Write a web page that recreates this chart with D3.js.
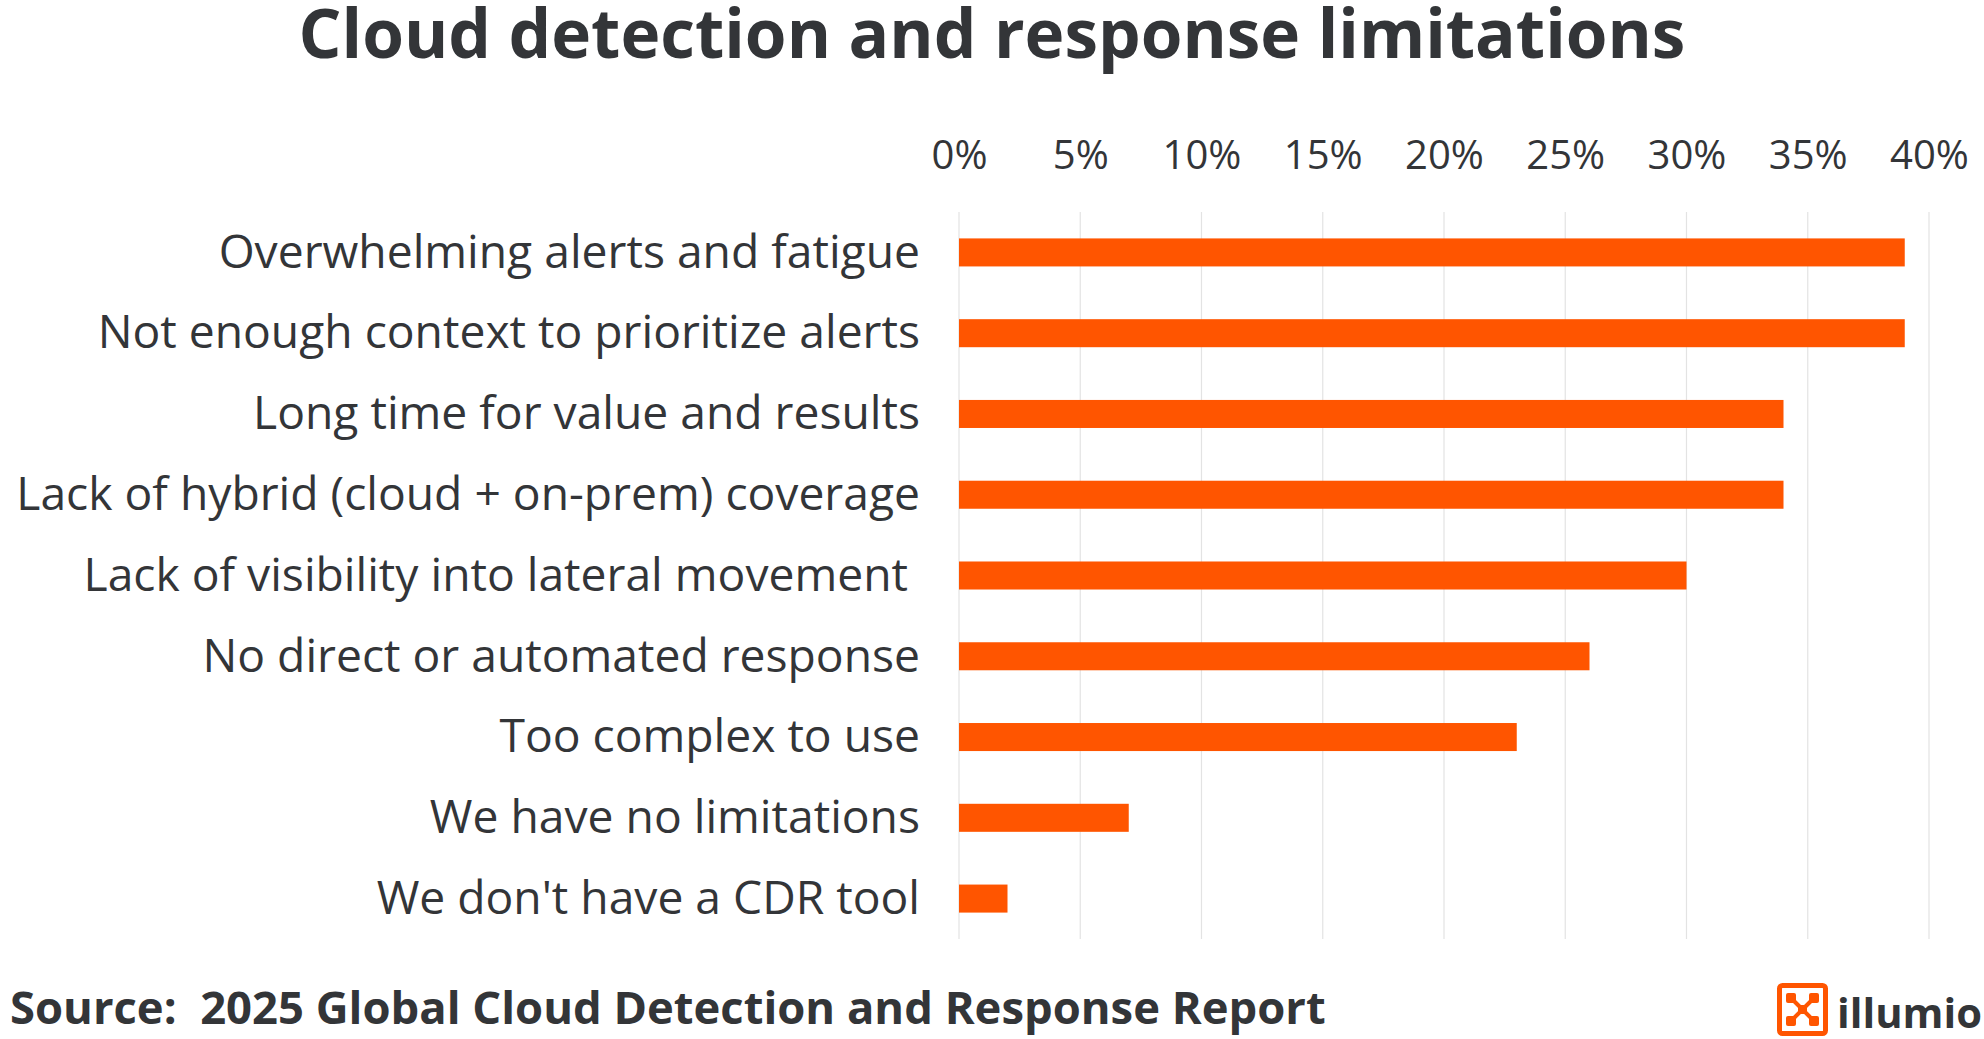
<!DOCTYPE html>
<html>
<head>
<meta charset="utf-8">
<script src="https://cdn.jsdelivr.net/npm/d3@7"></script>
<style>
body { margin: 0; background: #fff; }
text { white-space: pre; }
</style>
</head>
<body>
<svg id="chart" width="1984" height="1039"></svg>
<script>
var categories = [
    "Overwhelming alerts and fatigue",
    "Not enough context to prioritize alerts",
    "Long time for value and results",
    "Lack of hybrid (cloud + on-prem) coverage",
    "Lack of visibility into lateral movement ",
    "No direct or automated response",
    "Too complex to use",
    "We have no limitations",
    "We don't have a CDR tool"
];
var values = [39, 39, 34, 34, 30, 26, 23, 7, 2];
var tickValues = [0, 5, 10, 15, 20, 25, 30, 35, 40];
var title = "Cloud detection and response limitations";
var source = "Source:  2025 Global Cloud Detection and Response Report";

var W = 1984, H = 1039;
var svg = d3.select("#chart");
var plotLeft = 959, plotRight = 1929, plotTop = 212, plotBottom = 939;
var orange = "#ff5500", ink = "#333538";

// squeeze or stretch a text's font-size so it spans a given width
function fitWidth(sel, target) {
    var node = sel.node();
    var fs = parseFloat(sel.attr("font-size"));
    var w = node.getComputedTextLength();
    sel.attr("font-size", fs * target / w);
}

var x = d3.scaleLinear().domain([0, 40]).range([plotLeft, plotRight]);
var y = d3.scaleBand().domain(categories).range([plotTop, plotBottom])
    .paddingInner(0.653).paddingOuter(0.327);

// gridlines
svg.append("g").selectAll("line").data(tickValues).enter().append("line")
    .attr("x1", function (d) { return x(d); })
    .attr("x2", function (d) { return x(d); })
    .attr("y1", plotTop).attr("y2", plotBottom)
    .style("stroke", "#e3e3e3").style("stroke-width", 1.2);

// top axis labels
var xAxis = d3.axisTop(x).tickValues(tickValues)
    .tickFormat(function (d) { return d + "%"; }).tickSize(0).tickPadding(0);
var gx = svg.append("g").attr("transform", "translate(0,169)").call(xAxis);
gx.select(".domain").remove();
gx.selectAll("text")
    .attr("font-family", "Open Sans").attr("font-size", 40)
    .attr("fill", ink).attr("dy", 0);

// bars
svg.append("g").selectAll("rect").data(values).enter().append("rect")
    .attr("x", x(0))
    .attr("y", function (d, i) { return y(categories[i]); })
    .attr("width", function (d) { return x(d) - x(0); })
    .attr("height", y.bandwidth())
    .style("fill", orange);

// category labels
var yAxis = d3.axisLeft(y).tickSize(0).tickPadding(39);
var gy = svg.append("g").attr("transform", "translate(" + plotLeft + ",0)").call(yAxis);
gy.select(".domain").remove();
gy.selectAll("text")
    .attr("font-family", "Open Sans").attr("font-size", 41)
    .attr("fill", ink).attr("dy", "0.33em");
var longest = gy.selectAll("text").filter(function (d, i) { return i === 3; });
fitWidth(longest, 904);
gy.selectAll("text").attr("font-size", longest.attr("font-size"));

// title
var t = svg.append("text")
    .attr("x", W / 2).attr("y", 58)
    .attr("text-anchor", "middle")
    .attr("font-family", "Open Sans").attr("font-weight", 700)
    .attr("font-size", 64).attr("fill", ink)
    .text(title);
fitWidth(t, 1387);

// source
var s = svg.append("text")
    .attr("x", 10).attr("y", 1024)
    .attr("font-family", "Open Sans").attr("font-weight", 700)
    .attr("font-size", 42).attr("fill", ink)
    .text(source);
fitWidth(s, 1316);

// illumio logo
var logo = svg.append("g").attr("transform", "translate(1777,983)");
logo.append("rect").attr("x", 2.5).attr("y", 2.5).attr("width", 46).attr("height", 48)
    .attr("rx", 3).style("fill", "none").style("stroke", orange).style("stroke-width", 5);
var corners = [[14, 15], [37, 15], [14, 38], [37, 38]];
logo.selectAll("line.arm").data(corners).enter().append("line")
    .attr("x1", 25.5).attr("y1", 26.5)
    .attr("x2", function (d) { return d[0]; }).attr("y2", function (d) { return d[1]; })
    .style("stroke", orange).style("stroke-width", 4);
logo.selectAll("rect.node").data(corners).enter().append("rect")
    .attr("x", function (d) { return d[0] - 5; }).attr("y", function (d) { return d[1] - 5; })
    .attr("width", 10).attr("height", 10).attr("rx", 2).style("fill", orange);
logo.append("rect").attr("x", 21).attr("y", 22).attr("width", 9).attr("height", 9)
    .style("fill", orange);
var lt = svg.append("text")
    .attr("x", 1837).attr("y", 1028)
    .attr("font-family", "Open Sans").attr("font-weight", 700)
    .attr("font-size", 52).attr("fill", ink)
    .text("illumio");
fitWidth(lt, 145);
</script>
</body>
</html>
